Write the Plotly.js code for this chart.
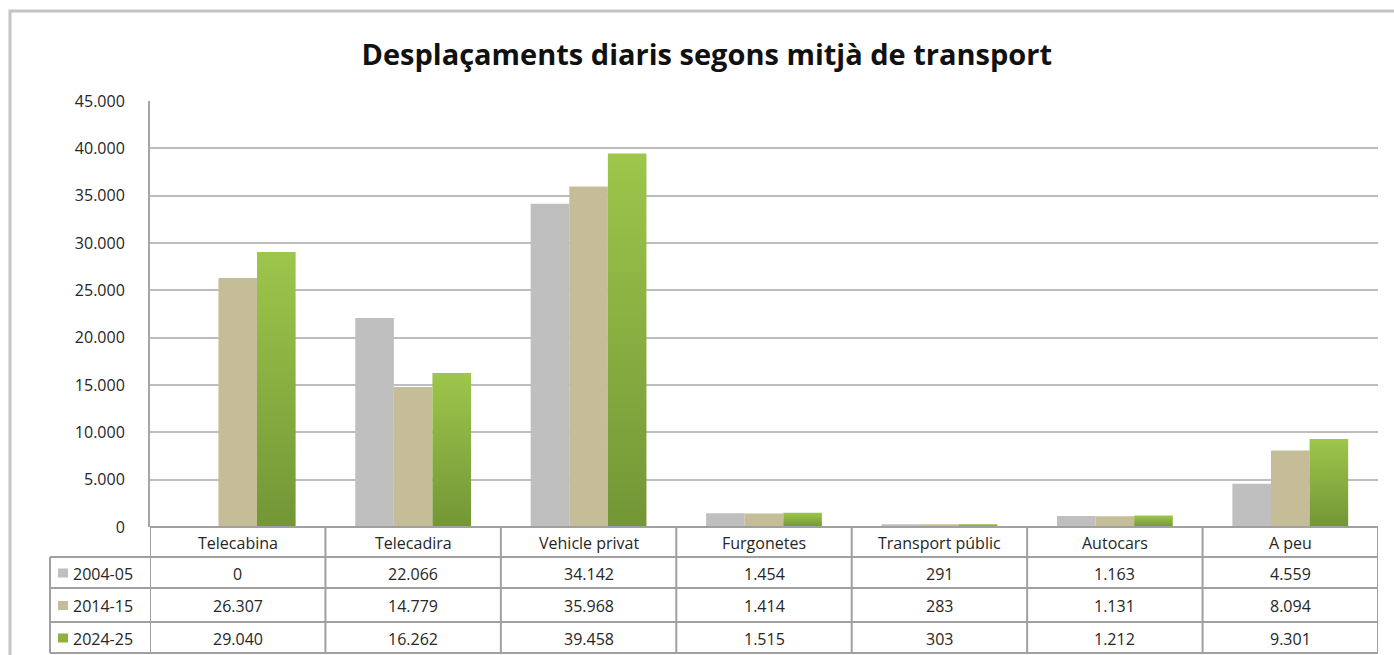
<!DOCTYPE html>
<html>
<head>
<meta charset="utf-8">
<script src="https://cdn.plot.ly/plotly-3.0.1.min.js"></script>
<style>
html,body{margin:0;padding:0;background:#fff;}
#chart{width:1394px;height:655px;}
</style>
</head>
<body>
<div id="chart"></div>
<script>
// ---- Data ----
const categories = ["Telecabina", "Telecadira", "Vehicle privat", "Furgonetes", "Transport públic", "Autocars", "A peu"];
const seriesNames = ["2004-05", "2014-15", "2024-25"];
const values2004 = [0, 22066, 34142, 1454, 291, 1163, 4559];
const values2014 = [26307, 14779, 35968, 1414, 283, 1131, 8094];
const values2024 = [29040, 16262, 39458, 1515, 303, 1212, 9301];
const yTickVals = [0, 5000, 10000, 15000, 20000, 25000, 30000, 35000, 40000, 45000];

const seriesValues = [values2004, values2014, values2024];
const colors = ["#BFBFBF", "#C4BD97", "#8DB23F"];

// ---- Geometry helpers (pixel -> paper) ----
const W = 1394, H = 655;
const mL = 150, mR = 16, mT = 101, mB = 128;
const plotW = W - mL - mR, plotH = H - mT - mB;
const px = x => (x - mL) / plotW;
const py = y => (H - mB - y) / plotH;

function fmt(n) {
  return String(n).replace(/\B(?=(\d{3})+(?!\d))/g, ".");
}

const font = "'Open Sans', sans-serif";
const textColor = "#262626";

const traces = seriesNames.map((name, i) => ({
  type: "bar",
  name: name,
  x: categories,
  y: seriesValues[i],
  marker: { color: colors[i], line: { width: 0 } },
  hoverinfo: "x+y+name"
}));

// ---- Data table (shapes + annotations) ----
const lineColor = "#A0A0A0";
const rowEdges = [527, 557, 588, 622, 653];
const shapes = [];
const annotations = [];

// outer chart border
shapes.push({
  type: "path", xref: "paper", yref: "paper",
  path: `M ${px(10)} ${py(700)} L ${px(10)} ${py(11)} L ${px(1420)} ${py(11)}`,
  line: { color: "#C4C4C4", width: 3 }
});

// horizontal table lines
shapes.push({ type: "line", xref: "x", yref: "paper", x0: -0.5, x1: categories.length - 0.5, y0: py(rowEdges[0]), y1: py(rowEdges[0]), line: { color: lineColor, width: 2 } });
for (let r = 1; r < rowEdges.length; r++) {
  shapes.push({ type: "line", xref: "paper", yref: "paper", x0: px(50), x1: 1, y0: py(rowEdges[r]), y1: py(rowEdges[r]), line: { color: lineColor, width: 2 } });
}
// vertical table lines
for (let k = 0; k <= categories.length; k++) {
  shapes.push({ type: "line", xref: "x", yref: "paper", x0: k - 0.5, x1: k - 0.5, y0: py(rowEdges[0]), y1: py(rowEdges[4]), line: { color: lineColor, width: 2 } });
}
shapes.push({ type: "line", xref: "paper", yref: "paper", x0: px(50), x1: px(50), y0: py(rowEdges[1]), y1: py(rowEdges[4]), line: { color: lineColor, width: 2 } });

// header labels
categories.forEach((c, k) => {
  annotations.push({
    xref: "x", yref: "paper", x: k, y: py((rowEdges[0] + rowEdges[1]) / 2 + 1),
    text: c, showarrow: false, xanchor: "center", yanchor: "middle",
    font: { family: font, size: 16, color: textColor }
  });
});
// rows
seriesNames.forEach((s, i) => {
  const yc = (rowEdges[i + 1] + rowEdges[i + 2]) / 2 + 1;
  // legend key
  shapes.push({
    type: "rect", xref: "paper", yref: "paper",
    x0: px(58), x1: px(68), y0: py(yc - 5), y1: py(yc + 4),
    fillcolor: colors[i], line: { width: 0 }
  });
  annotations.push({
    xref: "paper", yref: "paper", x: px(71), y: py(yc),
    text: s, showarrow: false, xanchor: "left", yanchor: "middle",
    font: { family: font, size: 16, color: textColor }
  });
  seriesValues[i].forEach((v, k) => {
    annotations.push({
      xref: "x", yref: "paper", x: k, y: py(yc),
      text: fmt(v), showarrow: false, xanchor: "center", yanchor: "middle",
      font: { family: font, size: 16, color: textColor }
    });
  });
});

const layout = {
  width: W, height: H,
  margin: { l: mL, r: mR, t: mT, b: mB, pad: 0 },
  paper_bgcolor: "#fff", plot_bgcolor: "#fff",
  separators: ",.",
  showlegend: false,
  barmode: "group", bargap: 0.34, bargroupgap: 0,
  title: {
    text: "<b>Desplaçaments diaris segons mitjà de transport</b>",
    font: { family: font, size: 29, color: "#111" },
    x: 0.507, xanchor: "center", y: 1 - 55 / H, yanchor: "middle"
  },
  xaxis: {
    type: "category", range: [-0.5, categories.length - 0.5],
    showticklabels: false, showgrid: false, zeroline: false, showline: false, ticks: ""
  },
  yaxis: {
    range: [0, 45000], tickvals: yTickVals, tickformat: ",d",
    showgrid: true, gridcolor: "#BDBDBD", gridwidth: 2,
    zeroline: false, showline: true, linecolor: "#A6A6A6", linewidth: 2,
    ticks: "", ticklabelstandoff: 20,
    tickfont: { family: font, size: 16, color: textColor }
  },
  shapes: shapes,
  annotations: annotations
};

Plotly.newPlot("chart", traces, layout, { displayModeBar: false, staticPlot: true }).then(gd => {
  const svg = gd.querySelector(".main-svg");
  let defs = svg.querySelector("defs");
  const NS = "http://www.w3.org/2000/svg";
  if (!defs) { defs = document.createElementNS(NS, "defs"); svg.insertBefore(defs, svg.firstChild); }
  const grad = document.createElementNS(NS, "linearGradient");
  grad.setAttribute("id", "greenGrad");
  grad.setAttribute("x1", "0"); grad.setAttribute("y1", "0");
  grad.setAttribute("x2", "0"); grad.setAttribute("y2", "1");
  [["0%", "#9DC64B"], ["100%", "#739636"]].forEach(([o, c]) => {
    const st = document.createElementNS(NS, "stop");
    st.setAttribute("offset", o); st.setAttribute("stop-color", c);
    grad.appendChild(st);
  });
  defs.appendChild(grad);
  const barTraces = gd.querySelectorAll(".barlayer .trace");
  if (barTraces[2]) {
    barTraces[2].querySelectorAll("path").forEach(p => { p.style.fill = "url(#greenGrad)"; });
  }
});
</script>
</body>
</html>
